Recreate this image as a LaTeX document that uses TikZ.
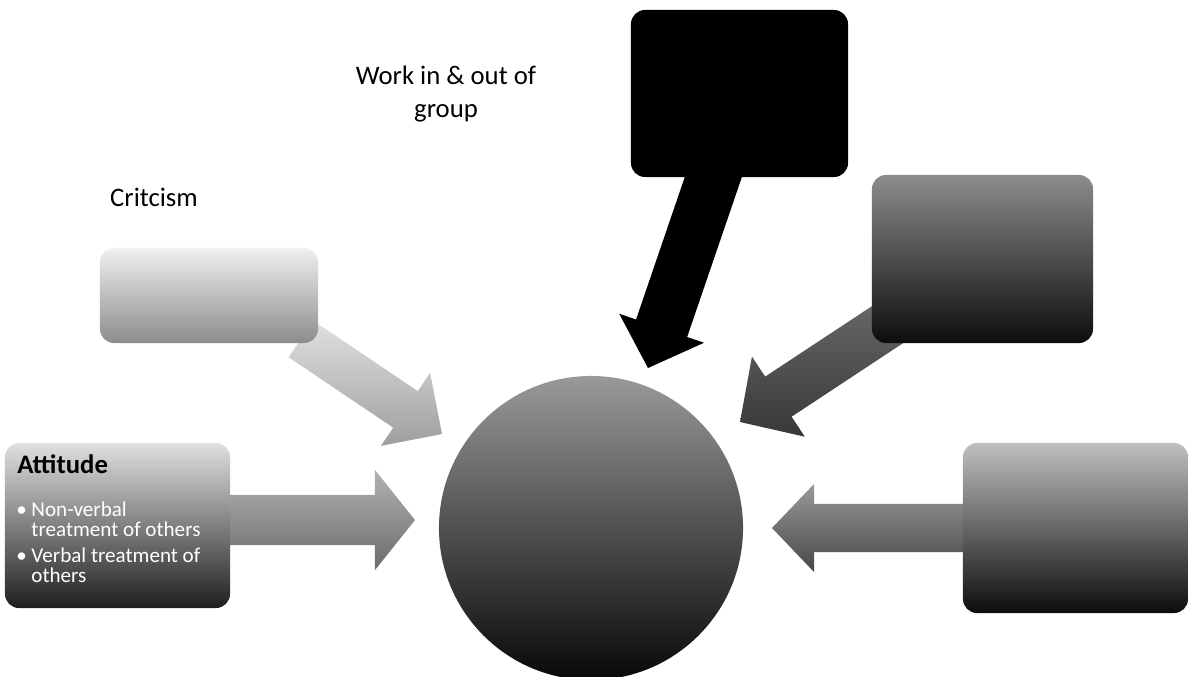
\documentclass[tikz,border=0pt]{standalone}
\usepackage{fontspec}
\setmainfont{Carlito}
\usetikzlibrary{calc,backgrounds}
\tikzset{
  box/.style={rectangle, rounded corners=0.35cm, inner sep=0pt, draw=none},
  lbl/.style={font=\fontsize{19}{23}\selectfont, align=center, text=black, inner sep=0pt},
  hub/.style={circle, inner sep=0pt, minimum size=7.6cm, draw=none},
}
% block arrow: #1 start, #2 tip, #3 shaft half width, #4 head half width, #5 head length, #6 style
\newcommand\blockarr[6]{%
  \coordinate (ba-b) at ($(#2)!#5!(#1)$);
  \path[#6] ($(#1)!#3!90:(#2)$) -- ($(ba-b)!#3!90:(#2)$) -- ($(ba-b)!#4!90:(#2)$) -- (#2)
     -- ($(ba-b)!#4!-90:(#2)$) -- ($(ba-b)!#3!-90:(#2)$) -- ($(#1)!#3!-90:(#2)$) -- cycle;
}
\begin{document}
\begin{tikzpicture}[x=0.025cm, y=-0.025cm]
\useasboundingbox (0,0) rectangle (1191,677);

% central circle
\node[hub, top color=black!40, bottom color=black!97] (c) at (591,528) {};

% boxes
\node[box, fill=black, minimum width=5.425cm, minimum height=4.175cm] (work) at (739.5,93.5) {};
\node[box, top color=black!45, bottom color=black!95, minimum width=5.525cm, minimum height=4.2cm] (tr) at (982.5,259) {};
\node[box, top color=black!6, bottom color=black!45, minimum width=5.45cm, minimum height=2.375cm] (crit) at (209,295.5) {};
\node[box, top color=black!12, bottom color=black!88, minimum width=5.625cm, minimum height=4.125cm] (att) at (117.5,525.5) {};
\node[box, top color=black!25, bottom color=black!95, minimum width=5.625cm, minimum height=4.25cm] (br) at (1075.5,528) {};

% arrow start points (inside boxes) and free tips near the circle
\coordinate (s-work) at (719.5,159);  \coordinate (t-work) at (648,368);
\coordinate (s-tr)   at (890,323);    \coordinate (t-tr)   at (740,422);
\coordinate (s-crit) at (301,339);    \coordinate (t-crit) at (442,434);
\coordinate (s-att)  at (220,520);    \coordinate (t-att)  at (415,520);
\coordinate (s-br)   at (975,528);    \coordinate (t-br)   at (772,528);

\begin{scope}[on background layer]
  \fill[white] (0,0) rectangle (1191,677);
  \blockarr{s-work}{t-work}{0.675cm}{1.12cm}{1.05cm}{fill=black}
  \blockarr{s-tr}{t-tr}{0.6cm}{1.2cm}{1.15cm}{top color=black!60, bottom color=black!78}
  \blockarr{s-crit}{t-crit}{0.55cm}{1.1cm}{1.1cm}{top color=black!12, bottom color=black!38}
  \blockarr{s-att}{t-att}{0.625cm}{1.25cm}{1.0cm}{top color=black!30, bottom color=black!58}
  \blockarr{s-br}{t-br}{0.6cm}{1.1cm}{1.05cm}{top color=black!40, bottom color=black!72}
\end{scope}

% labels
\node[lbl] (wl) at (446,94) {Work in \& out of\\group};
\node[lbl, anchor=base] (cl) at (154,206) {Critcism};
\node[lbl, anchor=base west, font=\fontsize{19}{21}\selectfont\bfseries] (al) at (17,473) {Attitude};
\node[anchor=base west, inner sep=0pt, text=white, align=left, font=\fontsize{15}{14}\selectfont] (bl) at (16,582)
  {\makebox[0.38cm][l]{\textbullet}Non-verbal\\
   \makebox[0.38cm][l]{}treatment of others\\[4.5pt]
   \makebox[0.38cm][l]{\textbullet}Verbal treatment of\\
   \makebox[0.38cm][l]{}others};
\end{tikzpicture}
\end{document}
